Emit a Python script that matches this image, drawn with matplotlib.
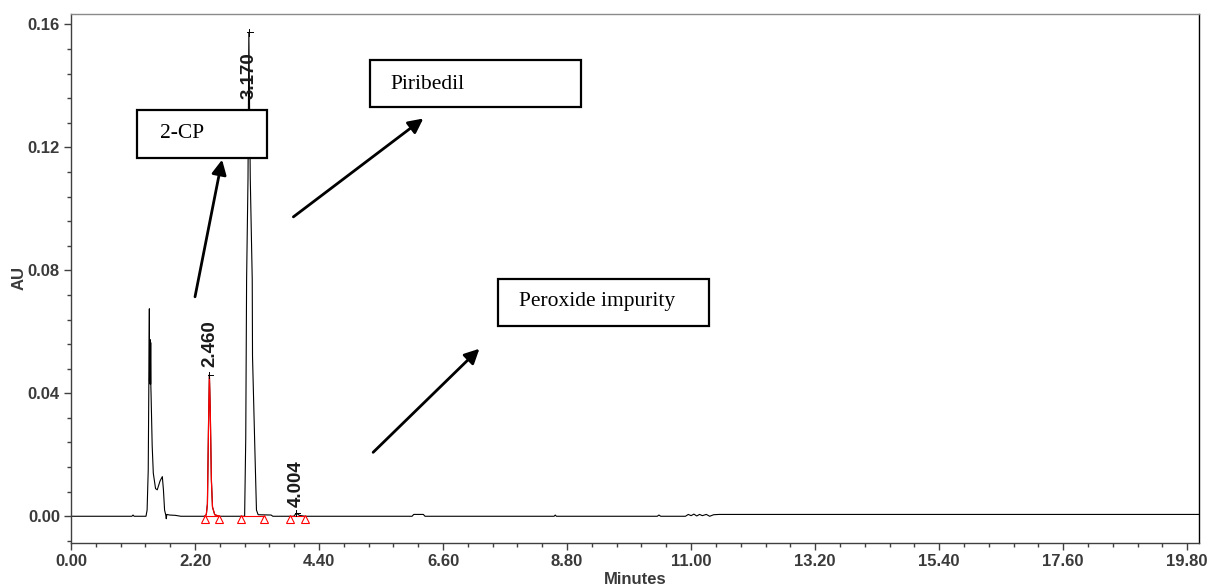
import matplotlib
matplotlib.use("Agg")
import matplotlib.pyplot as plt
from matplotlib import font_manager
from matplotlib.patches import Rectangle

# ---------------- data ----------------
time_min = [0.00, 1.08, 1.10, 1.12, 1.33, 1.35, 1.37, 1.39, 1.393, 1.396, 1.399, 1.402,
            1.405, 1.408, 1.411, 1.414, 1.417, 1.42, 1.44, 1.46, 1.50, 1.53, 1.58, 1.62,
            1.64, 1.66, 1.68, 1.69, 1.70, 1.75, 1.85, 1.95, 2.37, 2.40, 2.42, 2.44,
            2.455, 2.47, 2.49, 2.51, 2.55, 2.63, 3.08, 3.10, 3.115, 3.14, 3.155, 3.18,
            3.215, 3.22, 3.265, 3.29, 3.32, 3.55, 3.58, 3.95, 4.00, 4.05, 4.15, 6.05,
            6.08, 6.25, 6.28, 8.57, 8.59, 8.61, 10.40, 10.43, 10.46, 10.90, 10.95, 11.00,
            11.05, 11.10, 11.15, 11.20, 11.27, 11.33, 11.40, 11.50, 19.80, 20.00]
au = [0.0000, 0.0000, 0.0004, 0.0000, 0.0000, 0.0020, 0.0150, 0.0675, 0.0440, 0.0570,
      0.0435, 0.0575, 0.0430, 0.0570, 0.0430, 0.0565, 0.0420, 0.0400, 0.0230, 0.0140,
      0.0090, 0.0086, 0.0115, 0.0129, 0.0085, 0.0020, 0.0005, -0.0008, 0.0006, 0.0004,
      0.0003, 0.0000, 0.0000, 0.0005, 0.0040, 0.0300, 0.0460, 0.0350, 0.0120, 0.0030,
      0.0005, 0.0000, 0.0000, 0.0255, 0.0770, 0.1100, 0.1574, 0.1100, 0.0770, 0.0520,
      0.0194, 0.0020, 0.0005, 0.0004, 0.0000, 0.0000, 0.0010, 0.0003, 0.0000, 0.0000,
      0.0006, 0.0006, 0.0000, 0.0000, 0.0004, 0.0000, 0.0000, 0.0004, 0.0000, 0.0000,
      0.0006, 0.0002, 0.0007, 0.0001, 0.0006, 0.0002, 0.0006, 0.0000, 0.0005, 0.0006,
      0.0006, 0.0006]

# integrated (red) peak at 2.460
red_time = [2.37, 2.40, 2.42, 2.44, 2.455, 2.47, 2.49, 2.51, 2.55, 2.63]
red_au = [0.0000, 0.0005, 0.0040, 0.0300, 0.0460, 0.0350, 0.0120, 0.0030, 0.0005, 0.0000]

# integration start / end markers
int_start = [2.37, 3.01, 3.89]
int_end = [2.63, 3.43, 4.15]

# peak labels
peak_rt = [2.455, 3.16, 4.00]
peak_top = [0.0460, 0.1574, 0.0010]
peak_labels = ["2.460", "3.170", "4.004"]
label_base = [0.0486, 0.1356, 0.0030]

x_ticks = [0.00, 2.20, 4.40, 6.60, 8.80, 11.00, 13.20, 15.40, 17.60, 19.80]
x_tick_labels = ["0.00", "2.20", "4.40", "6.60", "8.80", "11.00", "13.20", "15.40", "17.60", "19.80"]
y_ticks = [0.00, 0.04, 0.08, 0.12, 0.16]
y_tick_labels = ["0.00", "0.04", "0.08", "0.12", "0.16"]

# annotation boxes
box_texts = ["2-CP", "Piribedil", "Peroxide impurity"]
box_x = [(1.17, 3.48), (5.31, 9.05), (7.58, 11.32)]
box_y = [(0.1167, 0.1323), (0.1330, 0.1483), (0.0620, 0.0772)]
box_text_pos = [(1.58, 0.1245), (5.66, 0.1405), (7.94, 0.0698)]
# arrows: (tail, head)
arrow_tail = [(2.20, 0.0714), (3.945, 0.0974), (5.36, 0.0208)]
arrow_head = [(2.68, 0.1160), (6.25, 0.1294), (7.245, 0.0545)]

# ---------------- fonts ----------------
names = {f.name for f in font_manager.fontManager.ttflist}
tick_family = "Liberation Sans Narrow" if "Liberation Sans Narrow" in names else "Liberation Sans"
serif_family = "Liberation Serif" if "Liberation Serif" in names else "DejaVu Serif"

fig = plt.figure(figsize=(12.08, 5.87), dpi=100)
ax = fig.add_axes([71 / 1208, 44.3 / 587, 1128 / 1208, 528.4 / 587])

ax.plot(time_min, au, color="black", lw=0.8)
ax.plot(red_time, red_au, color="red", lw=0.9)

for s, e in zip(int_start, int_end):
    ax.plot([s, e], [0, 0], color="red", lw=0.8)
ax.plot(int_start + int_end, [-0.0008] * 6, linestyle="none", marker="^",
        markersize=6, markerfacecolor="white", markeredgecolor="red", markeredgewidth=0.8)

for rt, top, lab, yb in zip(peak_rt, peak_top, peak_labels, label_base):
    ax.plot([rt - 0.03, rt + 0.06], [top, top], color="black", lw=0.7)
    ax.plot([rt, rt], [top - 0.001, top + 0.001], color="black", lw=0.7)
    ax.text(rt, yb, lab, rotation=90, ha="center", va="bottom", fontsize=13.5,
            family="Liberation Sans", fontweight="bold", color="#1a1a1a")

for t, (x0, x1), (y0, y1), (tx, ty) in zip(box_texts, box_x, box_y, box_text_pos):
    ax.add_patch(Rectangle((x0, y0), x1 - x0, y1 - y0, facecolor="white",
                           edgecolor="black", lw=1.6, zorder=5))
    ax.text(tx, ty, t, ha="left", va="center", fontsize=15.5, family=serif_family,
            color="black", zorder=6)

for tail, head in zip(arrow_tail, arrow_head):
    ax.annotate("", xy=head, xytext=tail,
                arrowprops=dict(arrowstyle="-|>", lw=2.0, color="black",
                                mutation_scale=22, shrinkA=0, shrinkB=0), zorder=6)

ax.set_xlim(0, 20.01)
ax.set_ylim(-0.0086, 0.1633)
ax.set_xticks(x_ticks)
ax.set_xticklabels(x_tick_labels)
ax.set_yticks(y_ticks)
ax.set_yticklabels(y_tick_labels)
ax.set_xticks([i * 0.44 for i in range(46)], minor=True)
ax.set_yticks([i * 0.008 - 0.008 for i in range(22)], minor=True)
ax.tick_params(which="major", length=5, width=1, color="#404040", direction="out", pad=3)
ax.tick_params(which="minor", length=3, width=1, color="#404040", direction="out")
for lab in ax.get_xticklabels() + ax.get_yticklabels():
    lab.set_family(tick_family)
    lab.set_fontsize(12)
    lab.set_fontweight("bold")
    lab.set_color("#3a3a3a")

ax.spines["top"].set_color("#8a8a8a")
ax.spines["left"].set_color("#404040")
ax.spines["bottom"].set_color("#404040")
ax.spines["right"].set_color("black")
for s in ax.spines.values():
    s.set_linewidth(1.0)

ax.set_xlabel("Minutes", fontsize=12, fontweight="bold", family="Liberation Sans",
              color="#3a3a3a", labelpad=2)
ax.set_ylabel("AU", fontsize=12, fontweight="bold", family="Liberation Sans",
              color="#3a3a3a", labelpad=1)

fig.savefig("out.png", dpi=100)
